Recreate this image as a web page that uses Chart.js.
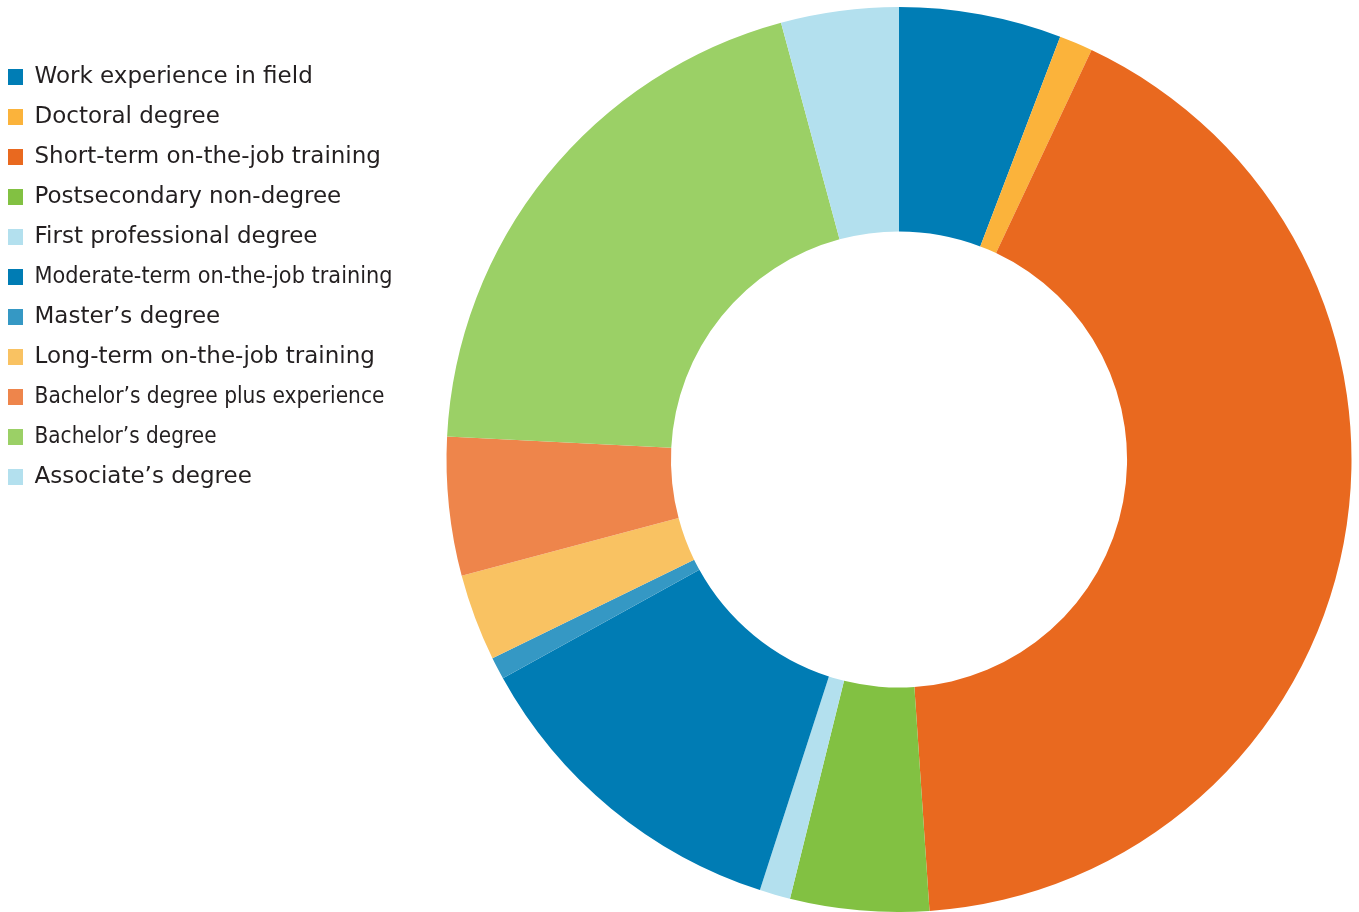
<!DOCTYPE html>
<html>
<head>
<meta charset="utf-8">
<script src="https://cdn.jsdelivr.net/npm/chart.js@4/dist/chart.umd.min.js"></script>
<style>
html,body{margin:0;padding:0;background:#fff;}
#wrap{position:absolute;left:0;top:0;width:1359px;height:912px;}
</style>
</head>
<body>
<div id="wrap"><canvas id="c"></canvas></div>
<script>
const categories = [
  "Work experience in field",
  "Doctoral degree",
  "Short-term on-the-job training",
  "Postsecondary non-degree",
  "First professional degree",
  "Moderate-term on-the-job training",
  "Master\u2019s degree",
  "Long-term on-the-job training",
  "Bachelor\u2019s degree plus experience",
  "Bachelor\u2019s degree",
  "Associate\u2019s degree"
];
const shares = [5.8, 1.2, 41.95, 4.95, 1.1, 12.0, 0.8, 3.1, 4.95, 20.0, 4.2];
const colors = ["#007DB5", "#FBB33B", "#E9691F", "#82C142", "#B3E0EE", "#007CB4", "#3598C4", "#F9C262", "#EE854B", "#9BD066", "#B3E0EE"];

// tighter set legend lines (as typeset in the original)
const condensedLabelWidths = {
  "Moderate-term on-the-job training": 358,
  "Bachelor\u2019s degree plus experience": 350,
  "Bachelor\u2019s degree": 182
};

const legendWidthPlugin = {
  id: 'legendWidth',
  beforeLayout(chart) {
    const lg = chart.legend;
    if (lg && !lg._patched) {
      const orig = lg.fit;
      lg.fit = function () { orig.call(this); this.width = 448; };
      lg._patched = true;
    }
  },
  beforeDraw(chart) {
    const ctx = chart.ctx;
    if (!ctx._condensedPatch) {
      const origFill = CanvasRenderingContext2D.prototype.fillText;
      ctx.fillText = function (t, x, y, mw) {
        if (mw === undefined) {
          const w = condensedLabelWidths[t];
          if (w) return origFill.call(this, t, x, y, w);
          return origFill.call(this, t, x, y);
        }
        return origFill.call(this, t, x, y, mw);
      };
      ctx._condensedPatch = true;
    }
  }
};

new Chart(document.getElementById('c'), {
  type: 'doughnut',
  data: {
    labels: categories,
    datasets: [{
      data: shares,
      backgroundColor: colors,
      borderWidth: 0,
      hoverOffset: 0
    }]
  },
  options: {
    responsive: true,
    maintainAspectRatio: false,
    animation: false,
    cutout: '50.4%',
    layout: { padding: { top: 7, bottom: 0, left: -9, right: 0 } },
    plugins: {
      tooltip: { enabled: false },
      legend: {
        position: 'left',
        align: 'start',
        title: { display: true, text: ' ', padding: { top: 29.5, bottom: 0 }, font: { size: 10, lineHeight: 1.2 } },
        labels: {
          boxWidth: 15,
          boxHeight: 16,
          padding: 17,
          color: '#231F20',
          font: { family: 'DejaVu Sans', size: 23 }
        }
      }
    }
  },
  plugins: [legendWidthPlugin]
});
</script>
</body>
</html>
